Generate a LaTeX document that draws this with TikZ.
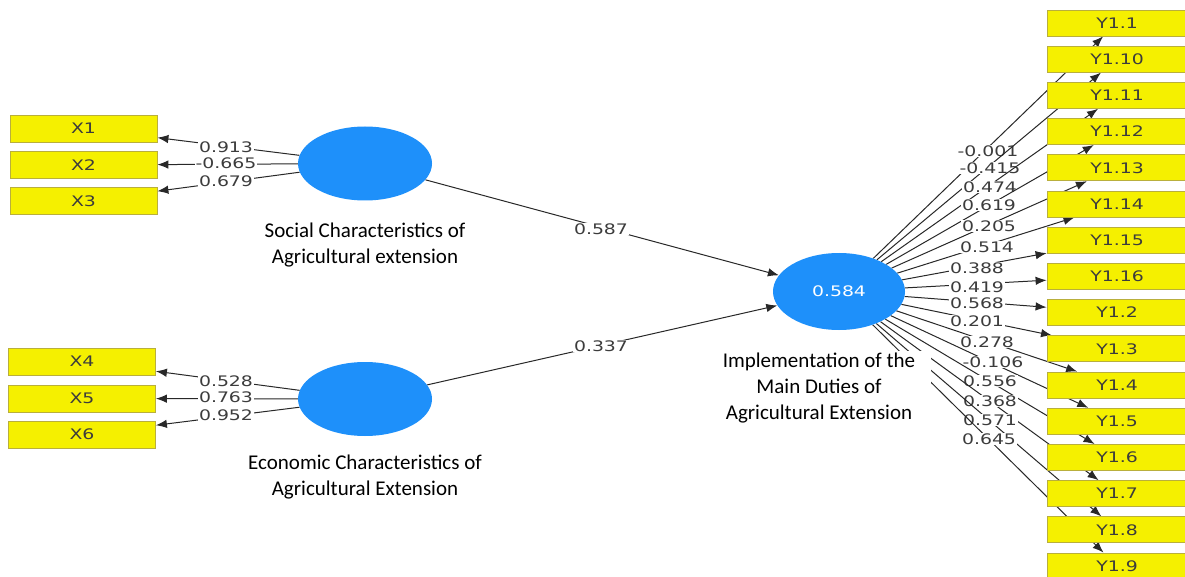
\documentclass[tikz,border=0pt]{standalone}
\usepackage{fontspec}
\setmainfont{Carlito}
\newfontfamily\indfont[FakeStretch=1.3]{DejaVu Sans}
\usetikzlibrary{arrows.meta,backgrounds,shapes.geometric}
\definecolor{lvblue}{RGB}{30,144,250}
\definecolor{indyellow}{RGB}{245,240,0}
\definecolor{indborder}{RGB}{185,175,60}
\definecolor{txtgray}{RGB}{60,60,60}
\definecolor{linegray}{RGB}{40,40,40}
\begin{document}
\begin{tikzpicture}[x=1pt,y=-1pt,
  lv/.style={ellipse, fill=lvblue, draw=none, minimum width=134pt, minimum height=74pt, inner sep=0pt},
  ind/.style={rectangle, fill=indyellow, draw=indborder, line width=0.8pt, minimum width=147pt, minimum height=27pt, inner sep=0pt, font=\indfont\fontsize{14.5}{16}\selectfont, text=txtgray},
  yind/.style={ind, minimum width=140pt, minimum height=26pt},
  conn/.style={draw=linegray, line width=1pt, -{Latex[length=11pt,width=8.5pt]}},
  wt/.style={fill=white, inner sep=0.6pt, font=\indfont\fontsize{14.5}{16}\selectfont, text=txtgray},
  captext/.style={font=\fontsize{21}{26}\selectfont, align=center, fill=white, inner sep=2pt, text=black}]
\useasboundingbox (0,0) rectangle (1185,577);

% latent variables
\node[lv] (soc) at (365,163.5) {};
\node[lv] (eco) at (365,399) {};
\node[lv, minimum width=132pt, minimum height=77pt, text=white, font=\indfont\fontsize{14.5}{16}\selectfont] (imp) at (839,291.5) {0.584};

% X indicators
\node[ind] (x1) at (83.5,128.5) {X1};
\node[ind] (x2) at (83.5,165) {X2};
\node[ind] (x3) at (83.5,201) {X3};
\node[ind] (x4) at (82,361.5) {X4};
\node[ind] (x5) at (82,398.5) {X5};
\node[ind] (x6) at (82,434.5) {X6};

% Y indicators
\foreach \lab [count=\i from 1] in {Y1.1,Y1.10,Y1.11,Y1.12,Y1.13,Y1.14,Y1.15,Y1.16,Y1.2,Y1.3,Y1.4,Y1.5,Y1.6,Y1.7,Y1.8,Y1.9}
  \node[yind] (y\i) at (1117,{23+36.2*(\i-1)}) {\lab};

% captions
\node[captext] (socl) at (365,245.5) {Social Characteristics of\\Agricultural extension};
\node[captext] (ecol) at (365,477) {Economic Characteristics of\\Agricultural Extension};
\node[captext, inner xsep=16pt] (impl) at (819,388) {Implementation of the\\Main Duties of\\Agricultural Extension};

\begin{pgfonlayer}{background}
  \fill[white] (0,0) rectangle (1185,577);
  % outer loadings
  \foreach \t/\v/\ly [count=\k] in {x1/0.913/147,x2/-0.665/163,x3/0.679/181} {
    \draw[conn] (soc) -- (\t);
    \node[wt] (lx\k) at (226,\ly) {\v};
  }
  \foreach \t/\v/\ly [count=\k from 4] in {x4/0.528/381,x5/0.763/397,x6/0.952/415} {
    \draw[conn] (eco) -- (\t);
    \node[wt] (lx\k) at (226,\ly) {\v};
  }
  % structural paths
  \draw[conn] (soc) -- (imp);
  \node[wt] (p1) at (601,229) {0.587};
  \draw[conn] (eco) -- (imp);
  \node[wt] (p2) at (601,346) {0.337};
  % Y loadings
  \foreach \i/\v/\lx/\ly in {1/-0.001/988/151, 2/-0.415/990/168, 3/0.474/990/187, 4/0.619/989/205,
      5/0.205/989/226, 6/0.514/987/247, 7/0.388/977/268, 8/0.419/977/287, 9/0.568/977/303,
      10/0.201/977/321, 11/0.278/987/342, 12/-0.106/993/362, 13/0.556/990/381, 14/0.368/990/401,
      15/0.571/990/420, 16/0.645/989/439} {
    \draw[conn] (imp) -- (y\i);
    \node[wt] (ly\i) at (\lx,\ly) {\v};
  }
\end{pgfonlayer}
\end{tikzpicture}
\end{document}
